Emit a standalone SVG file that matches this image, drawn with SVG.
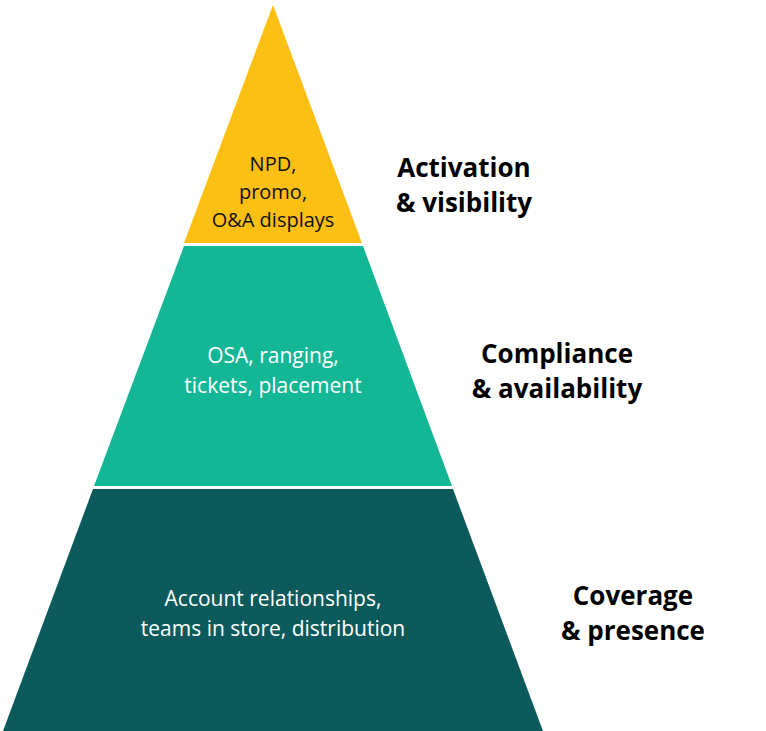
<svg xmlns="http://www.w3.org/2000/svg" width="766" height="731" viewBox="0 0 766 731">
<style>
.in{font-family:"Open Sans","Liberation Sans",sans-serif;font-size:21px;fill:#fff;text-anchor:middle}
.in2{font-family:"Open Sans","Liberation Sans",sans-serif;font-size:20px;fill:#111;text-anchor:middle}
.lb{font-family:"Open Sans","Liberation Sans",sans-serif;font-size:26px;font-weight:bold;fill:#000;text-anchor:middle}
</style>
<rect width="766" height="731" fill="#fff"/>
<g id="top">
<polygon points="273,5 362,243 184,243" fill="#FCBF14"/>
<text class="in2" x="273" y="171">NPD,</text>
<text class="in2" x="273" y="199">promo,</text>
<text class="in2" x="273" y="227">O&amp;A displays</text>
<text class="lb" x="464" y="177">Activation</text>
<text class="lb" x="464" y="212">&amp; visibility</text>
</g>
<g id="middle">
<polygon points="184,246 363,246 452,486 94,486" fill="#13B796"/>
<text class="in" x="273" y="363">OSA, ranging,</text>
<text class="in" x="273" y="393">tickets, placement</text>
<text class="lb" x="557" y="363">Compliance</text>
<text class="lb" x="557" y="398">&amp; availability</text>
</g>
<g id="bottom">
<polygon points="93,489 453,489 543,731 3,731" fill="#0C5A5B"/>
<text class="in" x="273" y="606">Account relationships,</text>
<text class="in" x="273" y="636">teams in store, distribution</text>
<text class="lb" x="633" y="605">Coverage</text>
<text class="lb" x="633" y="640">&amp; presence</text>
</g>
<g id="connectors"/>
</svg>
